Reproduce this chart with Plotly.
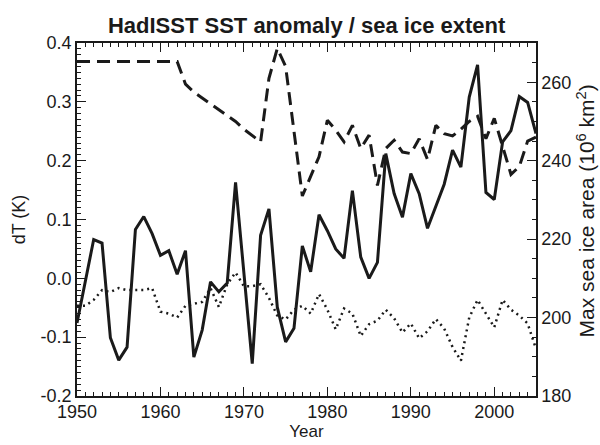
import plotly.graph_objects as go

# ---- data ----
years = list(range(1950, 2006))

# SST anomaly (K), left axis
sst_anom = [
    -0.076, -0.005, 0.066, 0.060, -0.101, -0.139, -0.117, 0.083, 0.105, 0.076,
    0.039, 0.047, 0.007, 0.047, -0.134, -0.088, -0.006, -0.023, -0.008, 0.163,
    0.010, -0.145, 0.073, 0.118, -0.049, -0.108, -0.085, 0.055, 0.011, 0.108,
    0.081, 0.050, 0.034, 0.149, 0.036, 0.000, 0.027, 0.212, 0.144, 0.104,
    0.178, 0.144, 0.085, 0.121, 0.160, 0.218, 0.189, 0.308, 0.363, 0.146,
    0.134, 0.232, 0.251, 0.309, 0.299, 0.246,
]

# Max sea ice area, dashed series (right axis)
ice_dashed = [
    265.3, 265.3, 265.3, 265.3, 265.3, 265.3, 265.3, 265.3, 265.3, 265.3,
    265.3, 265.3, 265.3, 259.5, 257.5, 256.0, 254.5, 253.0, 251.5, 250.0,
    248.0, 246.5, 244.8, 261.0, 268.6, 264.0, 247.0, 231.0, 236.0, 241.0,
    250.3, 247.8, 244.8, 249.0, 243.1, 246.5, 233.7, 243.1, 245.2, 242.2,
    241.8, 245.6, 240.3, 249.0, 246.9, 246.3, 248.0, 250.0, 251.3, 245.6,
    250.8, 243.5, 236.5, 238.5, 245.0, 246.0,
]

# Max sea ice area, dotted series (right axis)
ice_dotted = [
    203.0, 203.0, 204.5, 207.0, 206.5, 207.5, 207.0, 207.0, 207.0, 207.5,
    201.5, 201.0, 200.0, 203.0, 203.5, 204.0, 207.5, 202.7, 208.5, 211.5,
    208.0, 208.0, 208.5, 205.0, 200.5, 199.5, 202.0, 203.0, 201.0, 206.0,
    202.0, 197.0, 202.3, 201.0, 195.3, 198.3, 199.2, 202.0, 199.8, 196.2,
    198.5, 194.7, 196.5, 199.6, 197.2, 192.5, 189.0, 200.0, 204.5, 201.0,
    197.5, 204.5, 202.0, 200.5, 198.5, 192.0,
]

# tick labels
x_ticks = [1950, 1960, 1970, 1980, 1990, 2000]
y_ticks = [-0.2, -0.1, 0.0, 0.1, 0.2, 0.3, 0.4]
y_tick_text = ["-0.2", "-0.1", "0.0", "0.1", "0.2", "0.3", "0.4"]
y2_ticks = [180, 200, 220, 240, 260]

FONT = "Liberation Sans, Arial, Helvetica, sans-serif"
INK = "#1a1a1a"

fig = go.Figure()
fig.add_trace(go.Scatter(x=years, y=sst_anom, mode="lines",
                         line=dict(color=INK, width=3), yaxis="y"))
fig.add_trace(go.Scatter(x=years, y=ice_dashed, mode="lines",
                         line=dict(color=INK, width=3, dash="13px,7px"), yaxis="y2"))
fig.add_trace(go.Scatter(x=years, y=ice_dotted, mode="lines",
                         line=dict(color=INK, width=2.5, dash="2px,4px"), yaxis="y2"))

axis_common = dict(showgrid=False, zeroline=False, showline=True, linecolor=INK,
                   linewidth=1.5, ticks="inside", tickcolor=INK, tickwidth=1.2,
                   automargin=False,
                   tickfont=dict(family=FONT, size=18, color=INK))

fig.update_layout(
    width=600, height=445,
    margin=dict(l=77, r=64, t=43, b=49),
    paper_bgcolor="white", plot_bgcolor="white",
    showlegend=False,
    font=dict(family=FONT, color=INK),
    title=dict(text="<b>HadISST SST anomaly / sea ice extent</b>",
               font=dict(family=FONT, size=22, color=INK),
               x=0.511, xanchor="center", y=1 - 25 / 445, yanchor="middle",
               xref="container", yref="container"),
    xaxis=dict(range=[1950, 2005], tickvals=x_ticks, ticklen=9, mirror="ticks",
               ticklabelstandoff=-1,
               title=dict(text="Year", font=dict(family=FONT, size=17), standoff=4),
               minor=dict(dtick=1, ticklen=4, ticks="inside", tickcolor=INK, showgrid=False),
               **axis_common),
    yaxis=dict(range=[-0.2, 0.4], tickvals=y_ticks, ticktext=y_tick_text, ticklen=9,
               title=dict(text="dT (K)", font=dict(family=FONT, size=18), standoff=10),
               minor=dict(dtick=0.01, ticklen=4, ticks="inside", tickcolor=INK, showgrid=False),
               **axis_common),
    yaxis2=dict(range=[180, 270], tickvals=y2_ticks, ticklen=9, overlaying="y", side="right",
                minor=dict(dtick=5, ticklen=4, ticks="inside", tickcolor=INK, showgrid=False),
                **axis_common),
    annotations=[dict(
        text="Max sea ice area (10<sup>6</sup> km<sup>2</sup>)",
        font=dict(family=FONT, size=21, color=INK),
        textangle=-90, showarrow=False,
        xref="paper", yref="paper", x=1.0, xshift=49, xanchor="center",
        y=0.5, yshift=8, yanchor="middle",
    )],
)

fig.write_html("out.html")
